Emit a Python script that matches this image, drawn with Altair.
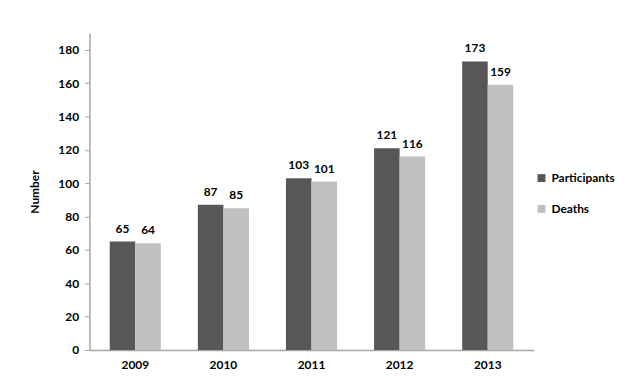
import altair as alt
import pandas as pd

years = ["2009", "2010", "2011", "2012", "2013"]
participants = [65, 87, 103, 121, 173]
deaths = [64, 85, 101, 116, 159]
series = ["Participants", "Deaths"]
colors = ["#575757", "#c0c0c0"]

rows = []
for i, y in enumerate(years):
    rows.append({"year": y, "series": "Participants", "value": participants[i]})
    rows.append({"year": y, "series": "Deaths", "value": deaths[i]})
df = pd.DataFrame(rows)

FONT = "Lato"

x = alt.X("year:N", sort=years, title=None,
          scale=alt.Scale(paddingInner=0.42, paddingOuter=0.23),
          axis=alt.Axis(labelAngle=0, ticks=False, domainColor="#a6a6a6", domainWidth=1.5,
                        labelFont=FONT, labelFontWeight="bold", labelFontSize=12,
                        labelColor="black", labelPadding=10, grid=False))
xo = alt.XOffset("series:N", sort=series, scale=alt.Scale(paddingInner=0, paddingOuter=0))
y = alt.Y("value:Q", title="Number",
          scale=alt.Scale(domain=[0, 190], nice=False),
          axis=alt.Axis(values=list(range(0, 181, 20)), grid=False, domainColor="#a6a6a6",
                        domainWidth=1.5, tickColor="#a6a6a6", tickSize=5, labelPadding=6,
                        labelFont=FONT, labelFontWeight="bold", labelFontSize=12, labelColor="black",
                        titleFont=FONT, titleFontWeight="bold", titleFontSize=12, titleColor="black",
                        titlePadding=16))

base = alt.Chart(df).encode(x=x, xOffset=xo, y=y)

bars = base.mark_bar().encode(
    color=alt.Color("series:N", sort=series,
                    scale=alt.Scale(domain=series, range=colors),
                    legend=alt.Legend(title=None, orient="none", legendX=449, legendY=140,
                                      symbolType="square", symbolSize=64, symbolStrokeWidth=0,
                                      rowPadding=19, labelFont=FONT, labelFontWeight="bold",
                                      labelFontSize=12, labelColor="black", labelOffset=4))
)

labels = base.mark_text(baseline="bottom", dy=-6, font=FONT, fontWeight="bold",
                        fontSize=12, color="black").encode(text="value:Q")

chart = (bars + labels).properties(
    width=447, height=319,
    background="white",
    autosize=alt.AutoSizeParams(type="none"),
    padding={"left": 82, "top": 24, "right": 85, "bottom": 25},
).configure_view(stroke=None)

chart.save("out.html", embed_options={"renderer": "svg", "actions": False})
